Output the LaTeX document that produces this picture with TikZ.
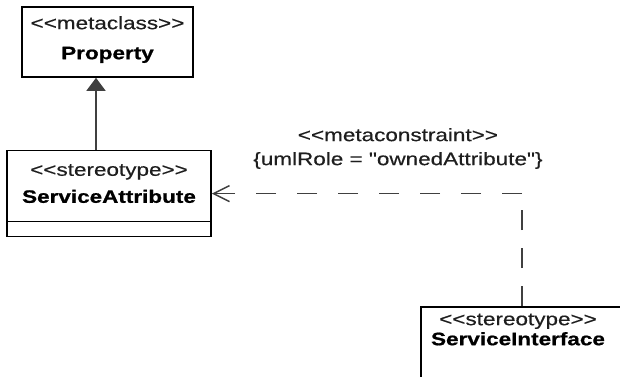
\documentclass[tikz,border=0pt]{standalone}
\usepackage{fontspec}
\setmainfont{Liberation Sans}[Ligatures=TeXOff, FakeStretch=1.25, FakeBold=0.4, BoldFeatures={FakeBold=0.8}]
\usepackage{xcolor}
\usepackage{tikz}
\usetikzlibrary{arrows.meta, positioning}
\definecolor{linegray}{HTML}{404040}
\definecolor{textgray}{HTML}{1e1e1e}
\newcommand{\stereo}[1]{\textless\kern0pt\textless#1\textgreater\kern0pt\textgreater}
\tikzstyle{classbox} = [rectangle, draw=black, line width=1.6pt, fill=white, inner sep=0pt]
\tikzstyle{stereotxt} = [inner sep=0pt, anchor=base, text=textgray, font=\fontsize{18}{22}\selectfont]
\tikzstyle{nametxt} = [inner sep=0pt, anchor=base, text=black, font=\fontsize{18}{22}\selectfont\bfseries]
\tikzstyle{generalize} = [draw=linegray, line width=1.6pt, -{Triangle[length=13pt, width=19pt, fill=linegray]}]
\tikzstyle{dependency} = [draw=linegray, line width=1.5pt]

\begin{document}
\begin{tikzpicture}[x=1pt, y=1pt]
    % Frame
    \useasboundingbox (0,0) rectangle (620,-376);
    \clip (0,0) rectangle (620,-376);
    \fill[white] (0,0) rectangle (620,-376);

    % Classes
    \node [classbox, minimum width=171pt, minimum height=70pt] (property) at (107.5,-42) {};
    \node [classbox, below=72pt of property, xshift=1.5pt, minimum width=204pt, minimum height=86pt] (sattr) {};
    \node [classbox, minimum width=210pt, minimum height=90pt] (iface) at (526,-352) {};
    \draw [line width=1.6pt] ([yshift=16pt]sattr.south west) -- ([yshift=16pt]sattr.south east);

    % Titles
    \node [stereotxt] (propstereo) at ([yshift=-23pt]property.north) {\stereo{metaclass}};
    \node [nametxt] (propname) at ([yshift=-53pt]property.north) {Property};
    \node [stereotxt] (sattrstereo) at ([yshift=-26pt]sattr.north) {\stereo{stereotype}};
    \node [nametxt] (sattrname) at ([yshift=-53pt]sattr.north) {ServiceAttribute};
    \node [stereotxt] (ifacestereo) at ([xshift=-8pt, yshift=-19pt]iface.north) {\stereo{stereotype}};
    \node [nametxt] (ifacename) at ([xshift=-8pt, yshift=-39pt]iface.north) {ServiceInterface};

    % Edges
    \path [generalize] ([xshift=-13pt]sattr.north) -- ([xshift=-13pt]sattr.north |- property.south);
    \coordinate (bend) at ([xshift=-4pt]iface.north |- sattr.east);
    \path [dependency, dash pattern=on 20pt off 18pt] ([xshift=-4pt]iface.north) -- (bend);
    \path [dependency, dash pattern=on 20pt off 21pt, -{Straight Barb[length=16pt, width=16pt]}] (bend) -- (sattr.east)
        node [pos=0.4, above=24pt, stereotxt, anchor=south, align=center, font=\fontsize{18}{24}\selectfont] (constraint)
        {\stereo{metaconstraint}\\\{umlRole = "ownedAttribute"\}};
\end{tikzpicture}
\end{document}
